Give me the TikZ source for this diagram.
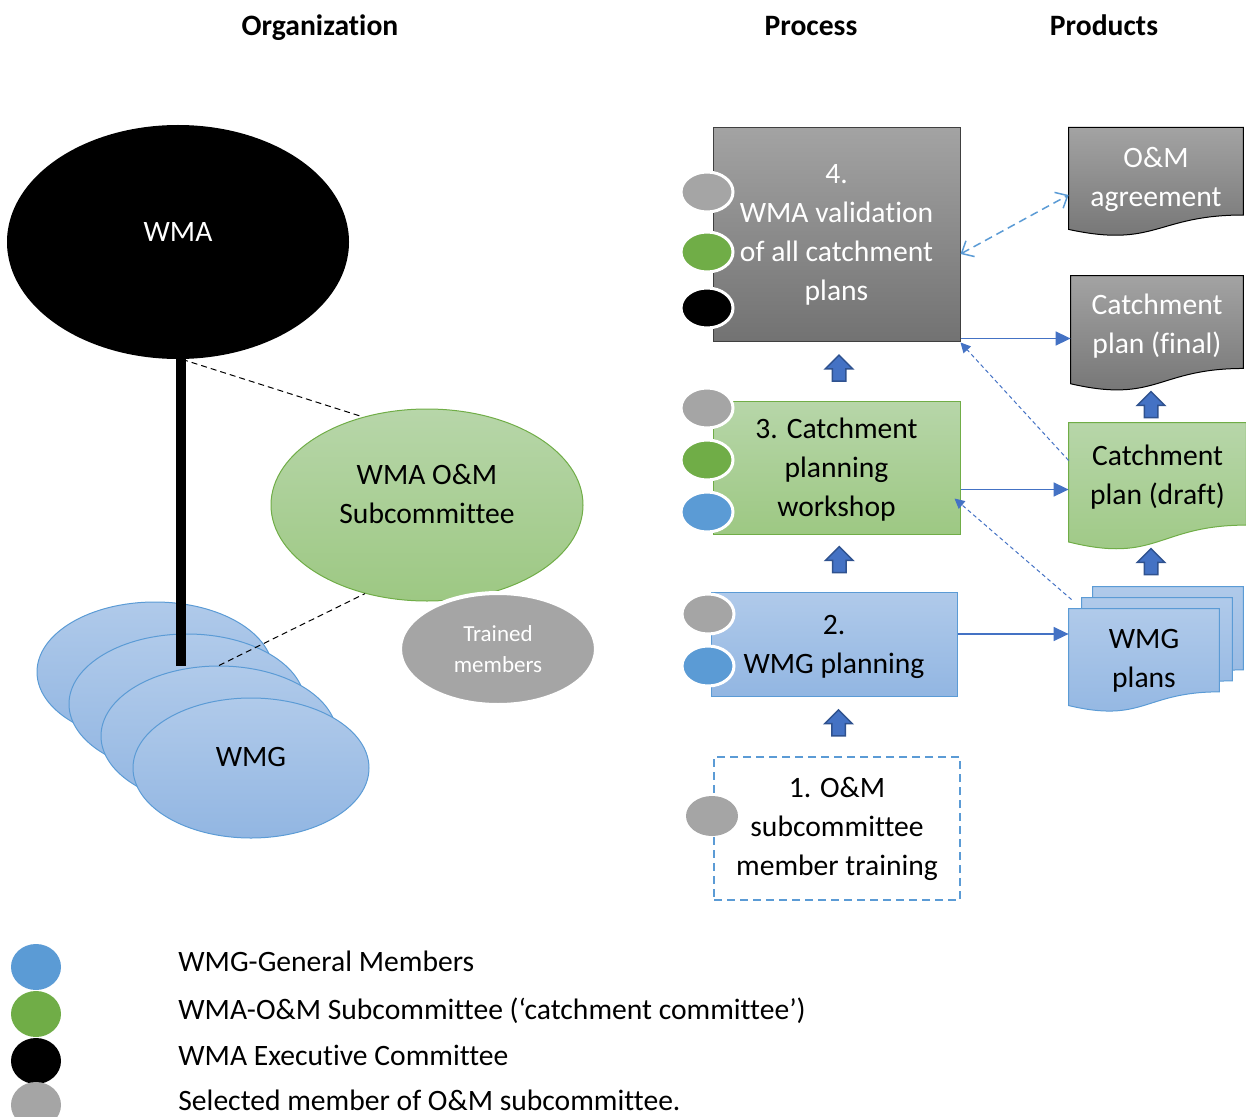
\documentclass[tikz,border=0pt]{standalone}
\usepackage{fontspec}
\setmainfont{Carlito}[Ligatures=NoCommon]
\usepackage{tikz}
\usetikzlibrary{positioning,calc,backgrounds,arrows.meta,shapes.geometric,shapes.arrows}
\definecolor{wmgblue}{HTML}{5B9BD5}
\definecolor{omgreen}{HTML}{70AD47}
\definecolor{selgray}{HTML}{A5A5A5}
\definecolor{flowblue}{HTML}{4472C4}
\definecolor{arrowrim}{HTML}{2F528F}
\definecolor{graytop}{HTML}{A3A3A3}
\definecolor{graybot}{HTML}{727272}
\definecolor{greentop}{HTML}{B7D6A9}
\definecolor{greenbot}{HTML}{9DC883}
\definecolor{bluetop}{HTML}{B0CAEA}
\definecolor{bluebot}{HTML}{92B6E2}
\tikzset{
  big font/.style={font=\fontsize{14.8pt}{19.5pt}\selectfont},
  heading/.style={font=\fontsize{14.8pt}{19.5pt}\selectfont\bfseries,
    text height=10pt, text depth=3pt},
  fill gray/.style={top color=graytop, bottom color=graybot},
  fill green/.style={top color=greentop, bottom color=greenbot},
  fill blue/.style={top color=bluetop, bottom color=bluebot},
  wma oval/.style={ellipse, fill=black, text=white, big font, inner sep=0pt,
    minimum width=171pt, minimum height=117pt},
  om oval/.style={ellipse, fill green, draw=omgreen, line width=0.5pt, big font,
    align=center, inner sep=0pt, minimum width=156pt, minimum height=96pt},
  trained oval/.style={ellipse, fill=selgray, draw=white, line width=2pt, text=white,
    font=\fontsize{11.5pt}{15.5pt}\selectfont, align=center, inner sep=0pt,
    minimum width=98pt, minimum height=56pt},
  wmg oval/.style={ellipse, fill blue, draw=wmgblue, line width=0.5pt, big font,
    inner sep=0pt, minimum width=118pt, minimum height=70pt},
  proc box/.style={rectangle, big font, align=center, inner sep=0pt},
  member dot/.style={ellipse, fill=#1, draw=white, line width=1.5pt, inner sep=0pt,
    minimum width=26pt, minimum height=20pt},
  legend dot/.style={ellipse, fill=#1, inner sep=0pt, minimum width=25pt, minimum height=23pt},
  legend text/.style={big font, anchor=west, inner sep=0pt},
  doc node/.style={rectangle, big font, align=center, inner sep=0pt},
  up block/.style={single arrow, shape border rotate=90, fill=flowblue, draw=arrowrim,
    line width=0.75pt, inner sep=3pt, minimum height=13pt, minimum width=13pt,
    single arrow head extend=3.5pt},
  org link/.style={black, line width=0.5pt, dash pattern=on 3pt off 2pt},
  flow/.style={flowblue, line width=0.75pt, -{Triangle[length=7.5pt,width=7pt]}},
  thin link/.style={flowblue, line width=0.5pt, dash pattern=on 2pt off 1.5pt,
    -{Triangle[length=5pt,width=5pt]}},
  plan link/.style={wmgblue, line width=0.75pt, dash pattern=on 4pt off 2.5pt,
    {Straight Barb[length=5pt,width=9pt]}-{Straight Barb[length=5pt,width=9pt]}}
}
\newcommand{\docshape}[2][]{%
  \path[#1] (#2.north west) -- (#2.north east)
    -- ($(#2.north east)!0.802!(#2.south east)$)
    .. controls ($(#2.north)!0.802!(#2.south)$) and ($(#2.north)!1.107!(#2.south)$)
    .. ($(#2.north west)!0.934!(#2.south west)$) -- cycle;}

\begin{document}
\begin{tikzpicture}[x=0.5pt, y=-0.5pt]
  \useasboundingbox (0,0) rectangle (1246,1117);

  \node [heading] (horg) at (320,29) {Organization};
  \node [heading] (hproc) at (811,29) {Process};
  \node [heading] (hprod) at (1104,29) {Products};

  \node [wma oval, text depth=10pt] (wma) at (178,242) {WMA};
  \node [om oval, text depth=11pt] (om) at (427,505) {WMA O\&M\\Subcommittee};
  \node [trained oval] (trained) at (498,649) {Trained\\members};
  \node [wmg oval] (wmg1) at (155,672) {};
  \node [wmg oval] (wmg2) at (187,704) {};
  \node [wmg oval] (wmg3) at (219,736) {};
  \node [wmg oval, text depth=11pt] (wmg4) at (251,768) {WMG};

  \draw [line width=5pt] ([xshift=1.5pt]wma.south) -- ([xshift=1.5pt]wma.south |- wmg3.north);
  \draw [org link] (wma.-88) -- (om.126);
  \draw [org link] (wmg3.north) -- (om.235);

  \node [proc box, fill gray, draw=black!75, line width=0.5pt, text=white,
    minimum width=123.5pt, minimum height=107pt] (box4) at (836.5,235)
    {4.\\WMA validation\\of all catchment\\plans};
  \node [proc box, fill green, draw=omgreen, line width=0.5pt, text depth=0pt,
    minimum width=123.5pt, minimum height=66.5pt] (box3) at (836.5,467.5)
    {3. Catchment\\planning\\workshop};
  \node [proc box, fill blue, draw=wmgblue, line width=0.5pt, text depth=0pt,
    minimum width=123pt, minimum height=52pt] (box2) at (834,644)
    {2.\\WMG planning};
  \node [proc box, draw=wmgblue, line width=1pt, dash pattern=on 4pt off 2.5pt,
    minimum width=123pt, minimum height=71.5pt] (box1) at (837,828.5)
    {1. O\&M\\subcommittee\\member training};

  \node [member dot=selgray] (d4a) at (707,192) {};
  \node [member dot=omgreen] (d4b) at (707,252) {};
  \node [member dot=black] (d4c) at (707,308) {};
  \node [member dot=selgray] (d3a) at (707,408) {};
  \node [member dot=omgreen] (d3b) at (707,460) {};
  \node [member dot=wmgblue] (d3c) at (707,512) {};
  \node [member dot=selgray] (d2a) at (708,614) {};
  \node [member dot=wmgblue] (d2b) at (708,666) {};
  \node [member dot=selgray, draw=none] (d1a) at (712,816) {};

  \node [up block] (up43) at ([xshift=1.25pt]$(box3.north)!0.5!(box4.south)$) {};
  \node [up block] (up32) at ([xshift=2pt]$(box2.north)!0.5!(box3.south)$) {};
  \node [up block] (up21) at ([xshift=1.5pt]$(box1.north)!0.5!(box2.south)$) {};

  \node [doc node, text=white, minimum width=87pt, minimum height=54.25pt, text depth=5.5pt]
    (oma) at (1156,182) {O\&M\\agreement};
  \node [doc node, text=white, minimum width=86pt, minimum height=57.5pt, text depth=10pt]
    (final) at (1157,333.5) {Catchment\\plan (final)};
  \node [doc node, minimum width=88.5pt, minimum height=63.5pt, text depth=12pt]
    (draft) at (1157.5,486.5) {Catchment\\plan (draft)};
  \node [doc node, minimum width=75pt, minimum height=51.5pt] (plans3) at (1168,638.5) {};
  \node [doc node, minimum width=75pt, minimum height=51.5pt] (plans2) at (1157,649.5) {};
  \node [doc node, minimum width=75pt, minimum height=51.5pt, text depth=2.5pt]
    (plans) at (1144,660.5) {WMG\\plans};

  \begin{scope}[on background layer]
    \docshape[fill gray, draw=black, line width=0.5pt]{oma}
    \docshape[fill gray, draw=black, line width=0.5pt]{final}
    \docshape[fill green, draw=omgreen, line width=0.5pt]{draft}
    \docshape[fill blue, draw=wmgblue, line width=0.5pt]{plans3}
    \docshape[fill blue, draw=wmgblue, line width=0.5pt]{plans2}
    \docshape[fill blue, draw=wmgblue, line width=0.5pt]{plans}
  \end{scope}

  \node [up block] (upfd) at (1151,408) {};
  \node [up block] (uppd) at (1151,565) {};

  \draw [plan link] ([yshift=-9.5pt]box4.east) -- ([yshift=-6.5pt]oma.west);
  \coordinate (f4) at ([yshift=2pt]box4.south east);
  \draw [flow] (f4) -- (f4 -| final.west);
  \draw [thin link] ([yshift=13pt]draft.west) -- (box4.south east);
  \coordinate (f3) at ([yshift=-11pt]box3.east);
  \draw [flow] (f3) -- (f3 -| draft.west);
  \draw [thin link] ([xshift=1.5pt,yshift=4.5pt]plans.north west) -- ([xshift=-3pt,yshift=-15.5pt]box3.east);
  \coordinate (f2) at ([yshift=5pt]box2.east);
  \draw [flow] (f2) -- (f2 -| plans.west);

  \node [legend dot=wmgblue] (kblue) at (36,967) {};
  \node [legend dot=omgreen] (kgreen) at (36,1014) {};
  \node [legend dot=black] (kblack) at (36,1061) {};
  \node [legend dot=selgray] (kgray) at (36,1105) {};
  \node [legend text] (tblue) at (178,961) {WMG-General Members};
  \node [legend text] (tgreen) at (178,1011) {WMA-O\&M Subcommittee (‘catchment committee’)};
  \node [legend text] (tblack) at (178,1055) {WMA Executive Committee};
  \node [legend text] (tgray) at (178,1100) {Selected member of O\&M subcommittee.};
\end{tikzpicture}
\end{document}
